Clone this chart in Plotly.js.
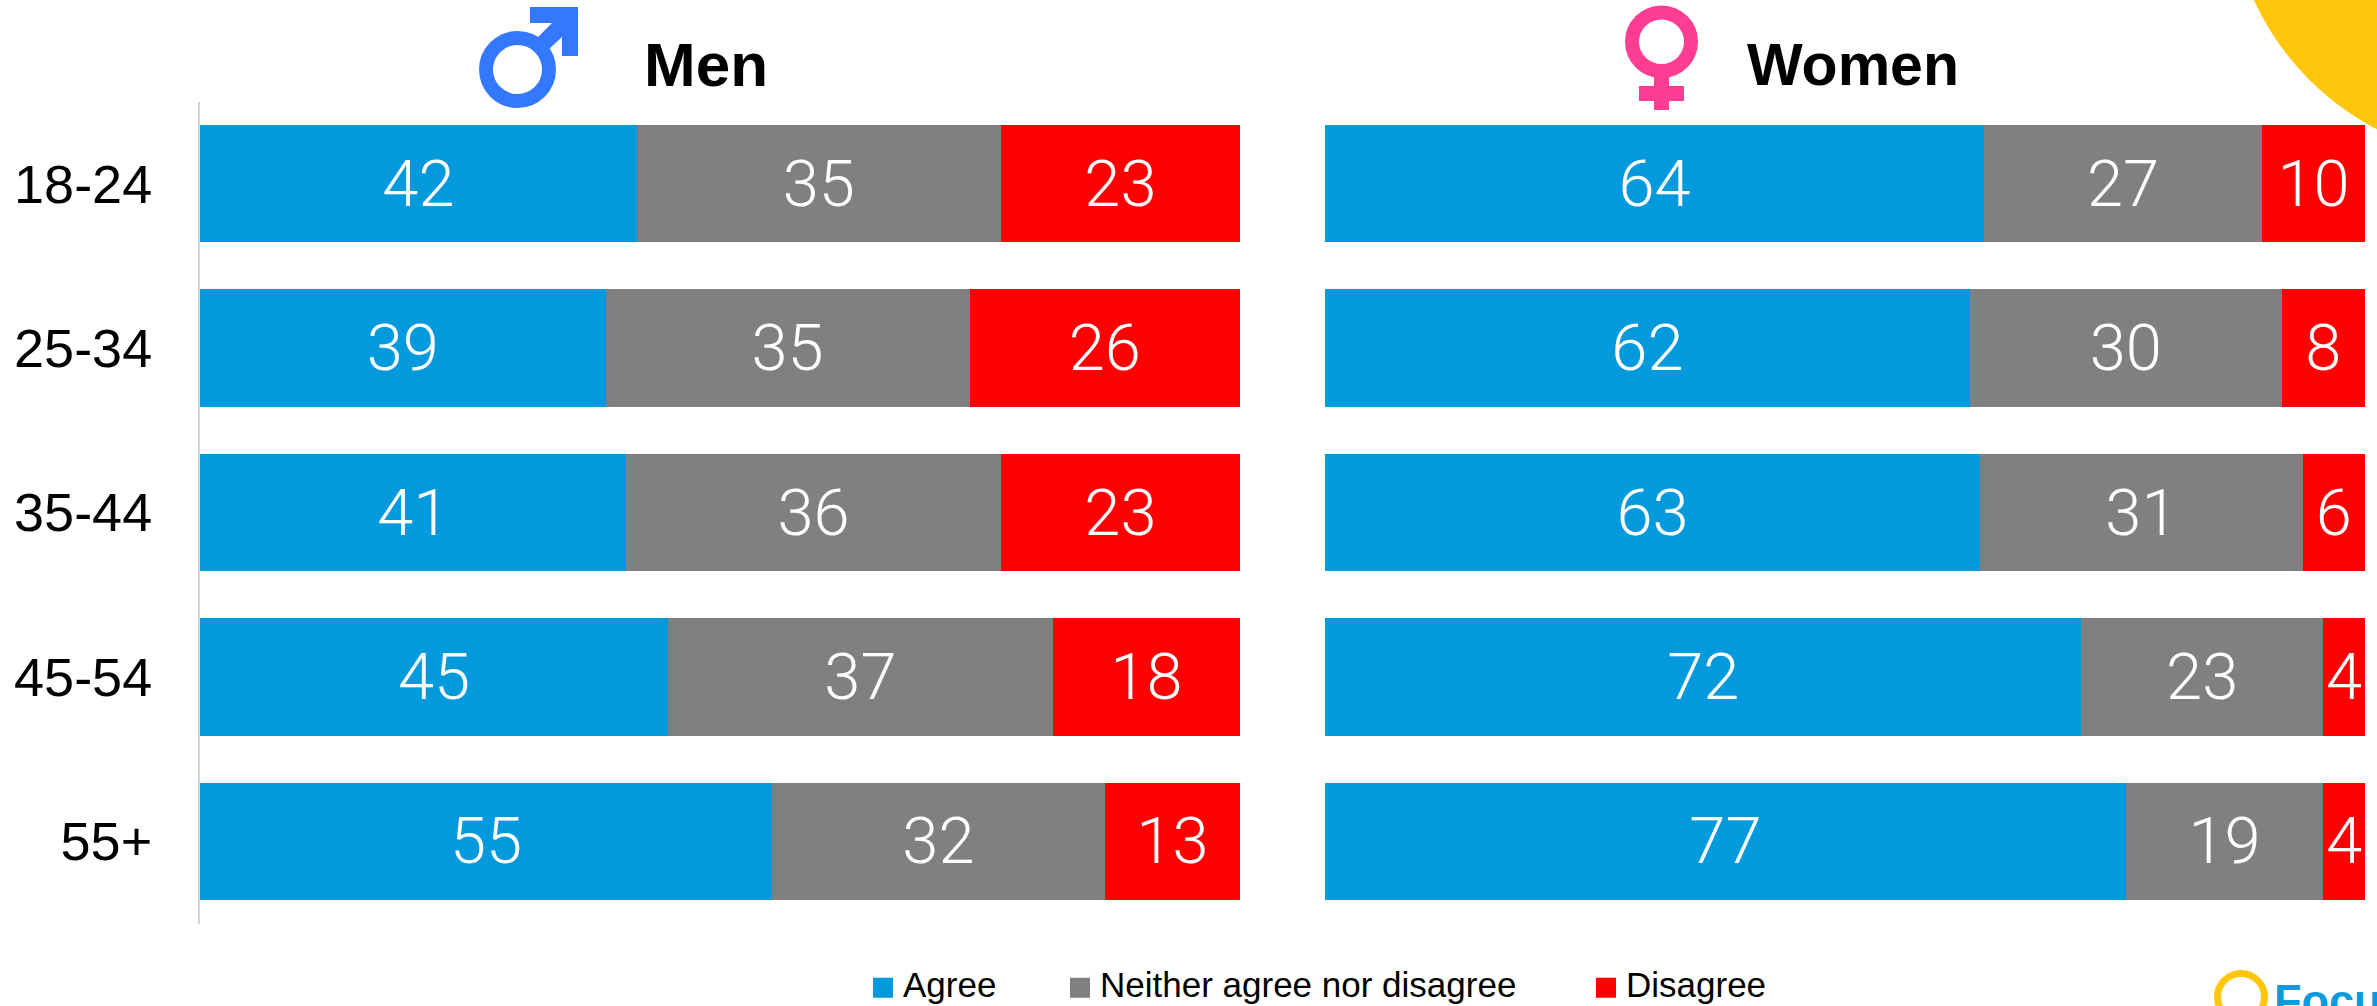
<!DOCTYPE html>
<html><head><meta charset="utf-8">
<script src="https://cdn.plot.ly/plotly-3.0.1.min.js"></script>
<style>html,body{margin:0;padding:0;background:#fff;overflow:hidden}#c{width:2377px;height:1006px}</style>
</head><body><div id="c"></div>
<script>
const ageGroups = ['18-24','25-34','35-44','45-54','55+'];
const menAgree = [42,39,41,45,55];
const menNeither = [35,35,36,37,32];
const menDisagree = [23,26,23,18,13];
const womenAgree = [64,62,63,72,77];
const womenNeither = [27,30,31,23,19];
const womenDisagree = [10,8,6,4,4];
const seriesNames = ['Agree','Neither agree nor disagree','Disagree'];
const seriesColors = ['#039ADD','#808080','#FF0000'];

const W = 2377, H = 1006;
const fx = p => p / W, fy = p => 1 - p / H;
const FONT = '"Liberation Sans", Arial, sans-serif';

function bar(vals, i, xa, ya, legendId, show) {
  return {type:'bar', orientation:'h', name:seriesNames[i], y:ageGroups, x:vals, xaxis:xa, yaxis:ya,
    marker:{color:seriesColors[i], line:{width:0}}, text:vals.map(String), textposition:'inside',
    insidetextanchor:'middle', textangle:0, constraintext:'none',
    textfont:{family:'Roboto, "Liberation Sans", sans-serif', weight:300, size:65, color:'#fff'}, hoverinfo:'name+text',
    showlegend:show, legend:legendId};
}
const traces = [
  bar(menAgree,0,'x','y','legend',true), bar(menNeither,1,'x','y','legend2',true), bar(menDisagree,2,'x','y','legend3',true),
  bar(womenAgree,0,'x2','y2','legend',false), bar(womenNeither,1,'x2','y2','legend2',false), bar(womenDisagree,2,'x2','y2','legend3',false)
];
const yDomain = [fy(923.5), fy(101.5)];
const legendBase = x => ({x:fx(x), y:fy(984), xanchor:'left', yanchor:'middle', orientation:'h',
  bgcolor:'rgba(0,0,0,0)', borderwidth:0, font:{family:FONT,size:35,color:'#000'}, itemclick:false, itemdoubleclick:false});
const male = [[530,7],[578,7],[578,56],[562,56],[562,37],[549,49],[538,37],[552,23],[530,23]];
const malePath = 'M' + male.map(p => fx(p[0]) + ',' + fy(p[1])).join('L') + 'Z';
const box = (x0,y0,x1,y1,c) => ({type:'rect',xref:'paper',yref:'paper',x0:fx(x0),x1:fx(x1),y0:fy(y1),y1:fy(y0),fillcolor:c,line:{width:0},layer:'above'});
const ring = (x0,y0,x1,y1,c,w) => ({type:'circle',xref:'paper',yref:'paper',x0:fx(x0),x1:fx(x1),y0:fy(y1),y1:fy(y0),fillcolor:'rgba(0,0,0,0)',line:{color:c,width:w},layer:'above'});
const layout = {
  width:W, height:H, margin:{l:0,r:0,t:0,b:0,pad:0,autoexpand:false}, paper_bgcolor:'#fff', plot_bgcolor:'rgba(0,0,0,0)',
  barmode:'stack', barnorm:'percent', bargap:0.287,
  xaxis:{domain:[fx(200),fx(1240)], range:[0,100], visible:false, fixedrange:true},
  xaxis2:{domain:[fx(1325),fx(2365)], range:[0,100], visible:false, fixedrange:true},
  yaxis:{domain:yDomain, type:'category', categoryorder:'array', categoryarray:ageGroups, range:[4.5,-0.5],
    showline:true, linecolor:'#D4D4D4', linewidth:2, showgrid:false, zeroline:false, ticks:'', anchor:'x',
    ticklabelstandoff:35, tickfont:{family:FONT,size:54,color:'#000'}, fixedrange:true},
  yaxis2:{domain:yDomain, type:'category', categoryorder:'array', categoryarray:ageGroups, range:[4.5,-0.5],
    showline:false, showgrid:false, zeroline:false, showticklabels:false, ticks:'', anchor:'x2', fixedrange:true},
  legend:legendBase(863), legend2:legendBase(1060), legend3:legendBase(1586),
  annotations:[
    {xref:'paper',yref:'paper',x:fx(642),y:fy(65),xanchor:'left',yanchor:'middle',showarrow:false,text:'<b>Men</b>',font:{family:FONT,size:62,color:'#000'}},
    {xref:'paper',yref:'paper',x:fx(1745),y:fy(65),xanchor:'left',yanchor:'middle',showarrow:false,text:'<b>Women</b>',font:{family:FONT,size:59,color:'#000'}},
    {xref:'paper',yref:'paper',x:fx(2272),y:fy(973),xanchor:'left',yanchor:'top',showarrow:false,text:'<b>Focus</b>',font:{family:FONT,size:45,color:'#0A9BDC'}}
  ],
  shapes:[
    {type:'circle',xref:'paper',yref:'paper',x0:fx(2503-274),x1:fx(2503+274),y0:fy(-114+274),y1:fy(-114-274),fillcolor:'#FFC60B',line:{width:0},layer:'below'},
    ring(486,38,549,101,'#3478FF',14),
    {type:'path',xref:'paper',yref:'paper',path:malePath,fillcolor:'#3478FF',line:{width:0},layer:'above'},
    {type:'circle',xref:'paper',yref:'paper',x0:fx(1632),x1:fx(1691),y0:fy(71),y1:fy(12.5),fillcolor:'rgba(0,0,0,0)',line:{color:'#FF3D93',width:14},layer:'above'},
    box(1654,75,1669,110,'#FF3D93'), box(1639,86,1684,101,'#FF3D93'),
    ring(2217.5,973.5,2264.5,1020.5,'#FFC60B',7)
  ]
};
Plotly.newPlot('c', traces, layout, {displayModeBar:false, staticPlot:true}).then(() => {
  document.querySelectorAll('.legendbar path, .legendpoints path').forEach(p => p.setAttribute('d','M10,14H-10V-6H10Z'));
});
</script></body></html>
